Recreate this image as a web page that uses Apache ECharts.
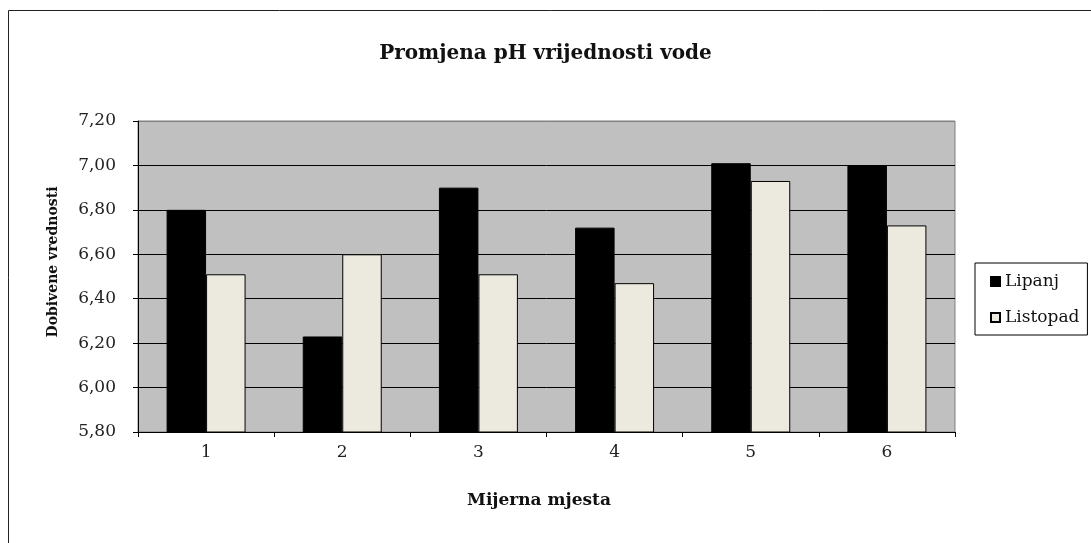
<!DOCTYPE html>
<html>
<head>
<meta charset="utf-8">
<script src="https://cdn.jsdelivr.net/npm/echarts@6/dist/echarts.min.js"></script>
<style>
html,body{margin:0;padding:0;background:#fff;}
#c{width:1091px;height:543px;}
</style>
</head>
<body>
<div id="c"></div>
<script>
var categories = ['1', '2', '3', '4', '5', '6'];
var lipanj = [6.80, 6.23, 6.90, 6.72, 7.01, 7.00];
var listopad = [6.51, 6.60, 6.51, 6.47, 6.93, 6.73];
var seriesNames = ['Lipanj', 'Listopad'];
var titleText = 'Promjena pH vrijednosti vode';
var xName = 'Mijerna mjesta';
var yName = 'Dobivene vrednosti';

var F = '"DejaVu Serif", serif';
var chart = echarts.init(document.getElementById('c'), null, {renderer: 'canvas'});
chart.setOption({
  animation: false,
  backgroundColor: '#fff',
  textStyle: {fontFamily: F},
  title: {
    text: titleText,
    left: 'center',
    top: 39,
    textStyle: {fontFamily: F, fontWeight: 'bold', fontSize: 20, color: '#111'}
  },
  legend: {
    orient: 'vertical',
    left: 975,
    top: 263,
    padding: [10, 8, 9, 15],
    itemGap: 19,
    itemWidth: 9,
    itemHeight: 9,
    icon: 'rect',
    borderColor: '#000',
    borderWidth: 1,
    backgroundColor: '#fff',
    formatter: function (n) { return '{s|' + n + '}'; },
    textStyle: {
      fontFamily: F, fontSize: 17, color: '#111', lineHeight: 17,
      rich: {s: {fontFamily: F, fontSize: 17, color: '#111', lineHeight: 17}}
    },
    data: seriesNames
  },
  grid: {
    left: 138, right: 136, top: 121, bottom: 111,
    show: true, backgroundColor: '#c0c0c0', borderColor: '#808080', borderWidth: 1
  },
  xAxis: {
    type: 'category',
    data: categories,
    name: xName,
    nameLocation: 'middle',
    nameGap: 60,
    nameTextStyle: {fontFamily: F, fontWeight: 'bold', fontSize: 17, color: '#111', padding: [0, 15, 0, 0]},
    axisLine: {lineStyle: {color: '#000', width: 1}},
    axisTick: {show: true, length: 5, lineStyle: {color: '#000'}},
    axisLabel: {fontFamily: F, fontSize: 17, color: '#222', margin: 12},
    splitLine: {show: false}
  },
  yAxis: {
    type: 'value',
    min: 5.8,
    max: 7.2,
    interval: 0.2,
    axisLine: {show: true, lineStyle: {color: '#000', width: 1}},
    axisTick: {show: true, length: 5, lineStyle: {color: '#000'}},
    axisLabel: {
      fontFamily: F, fontSize: 17, color: '#222', margin: 22,
      formatter: function (v) { return v.toFixed(2).replace('.', ','); }
    },
    splitLine: {show: true, lineStyle: {color: ['#000', '#000', '#000', '#000', '#000', '#000', '#000', '#808080'], width: 1}}
  },
  graphic: [
    {type: 'rect', shape: {x: 8.5, y: 10.5, width: 1200, height: 700}, style: {fill: null, stroke: '#222', lineWidth: 1}, silent: true, z: 100},
    {type: 'text', x: 53, y: 262, rotation: Math.PI / 2,
      style: {text: yName, fontFamily: F, fontWeight: 'bold', fontSize: 14, fill: '#111', align: 'center', verticalAlign: 'middle'}}
  ],
  series: [
    {name: seriesNames[0], type: 'bar', data: lipanj, barGap: '0%', barCategoryGap: '42%',
      itemStyle: {color: '#000', borderColor: '#000', borderWidth: 1}},
    {name: seriesNames[1], type: 'bar', data: listopad, barGap: '0%', barCategoryGap: '42%',
      itemStyle: {color: '#eceadf', borderColor: '#000', borderWidth: 1}}
  ]
});
</script>
</body>
</html>
